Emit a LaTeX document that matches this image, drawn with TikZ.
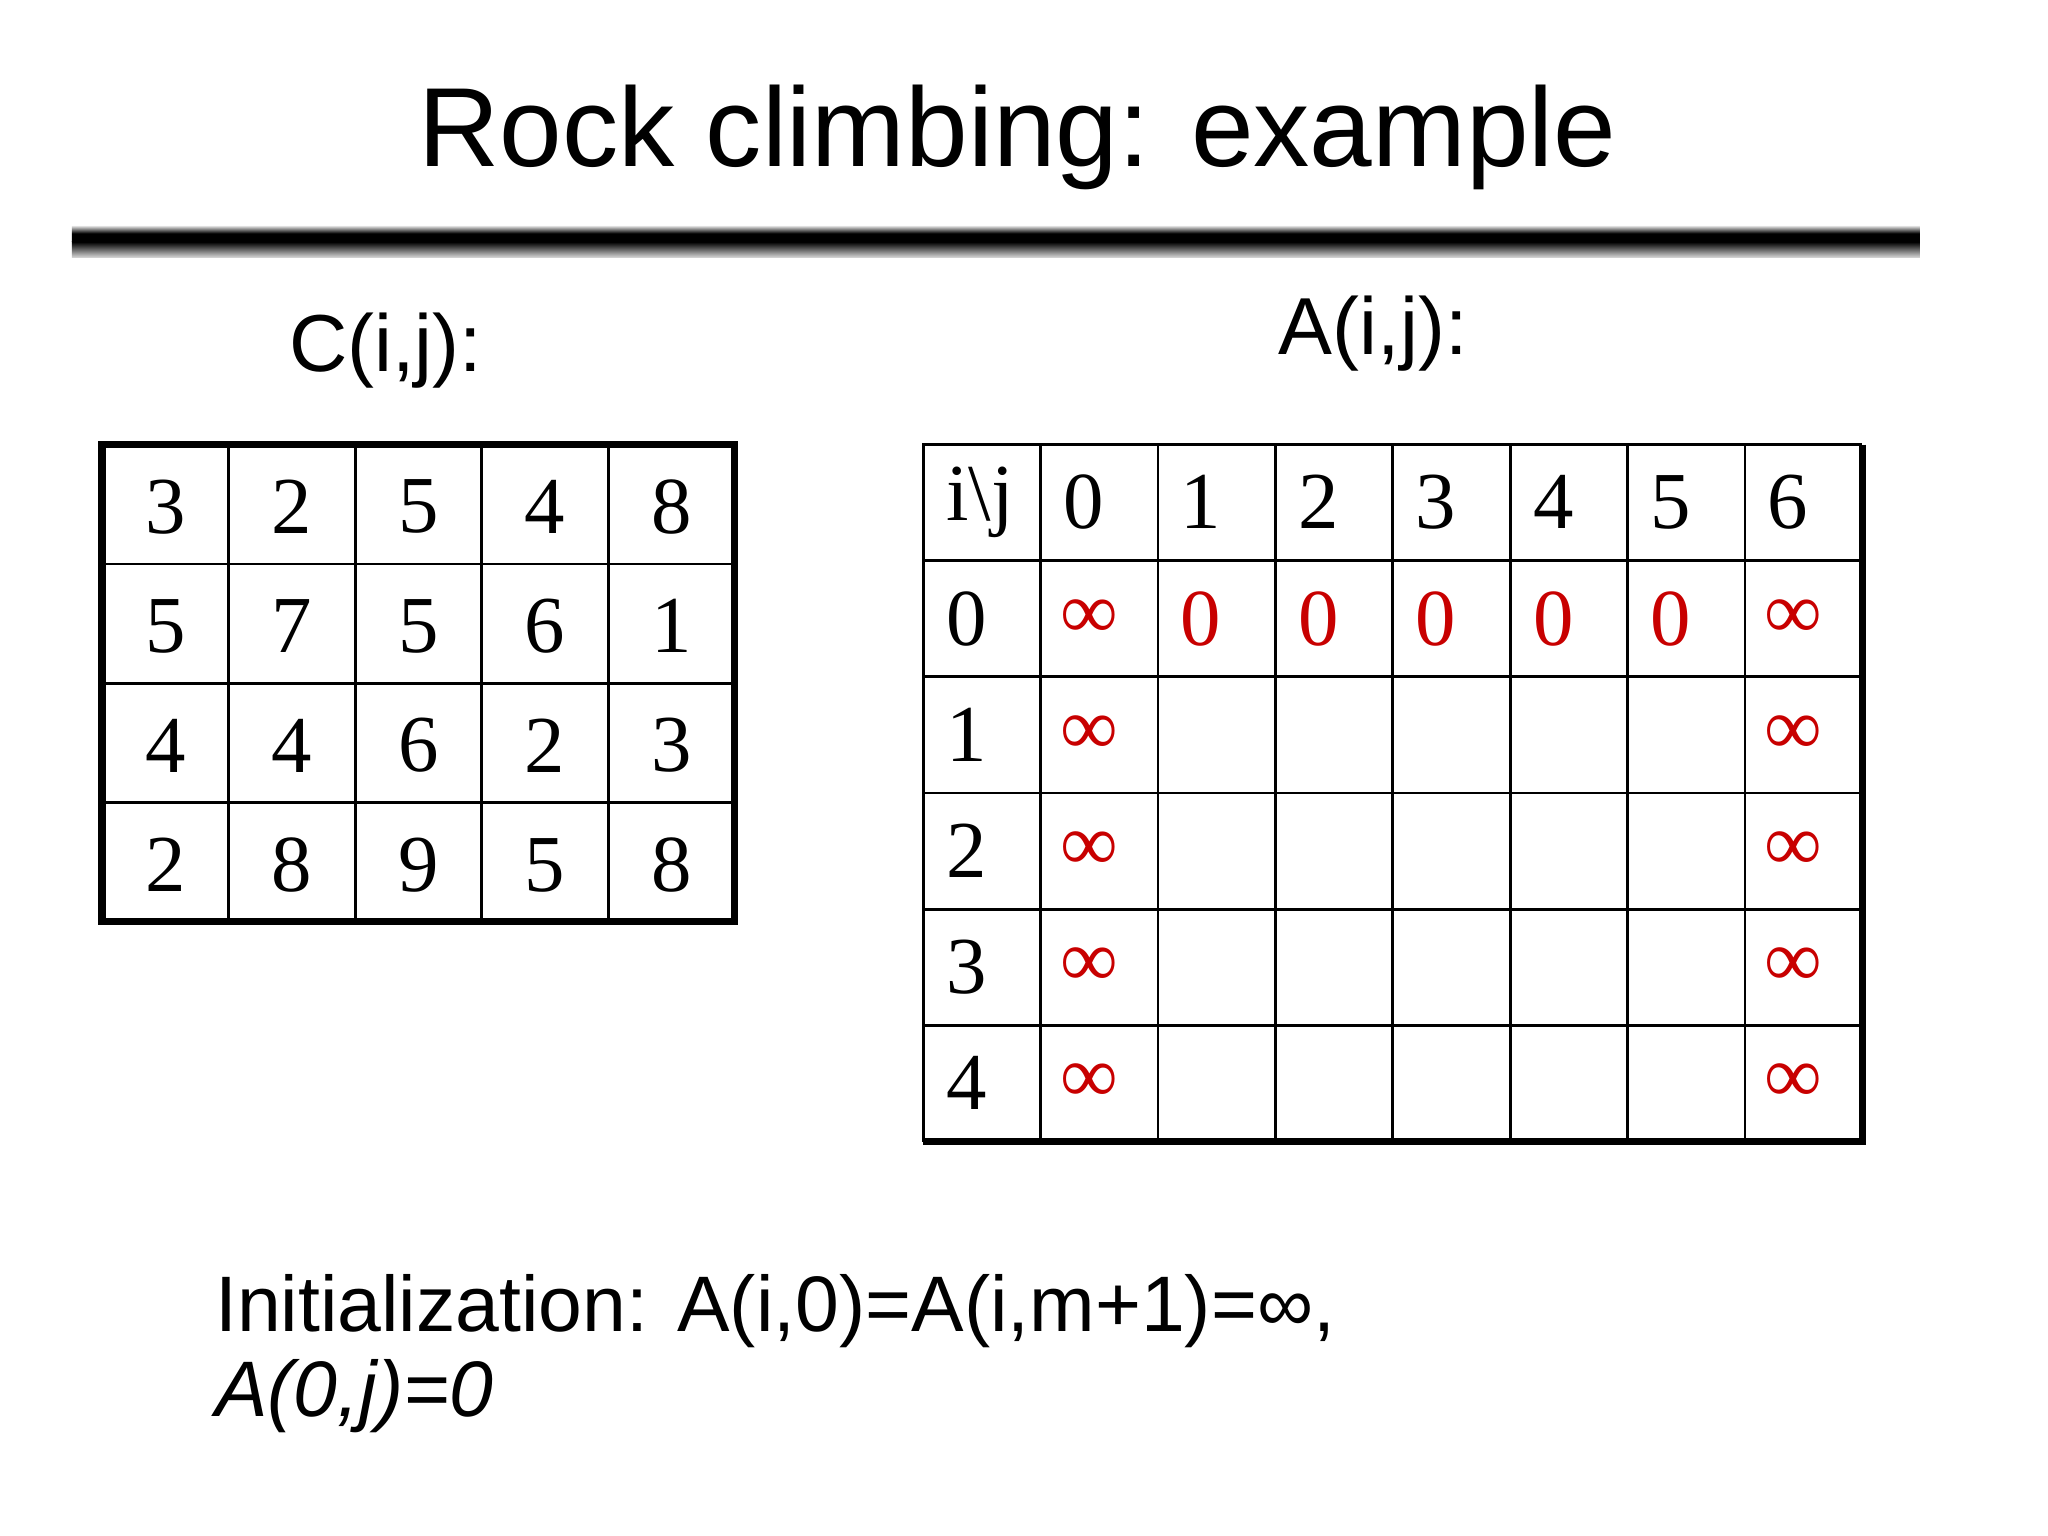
\documentclass[tikz,border=0pt]{standalone}
\usepackage{fontspec}
\setmainfont{Liberation Sans}
\newfontfamily\serifnum{Liberation Serif}
\begin{document}
\begin{tikzpicture}[x=0.013078cm,y=-0.013078cm,
  cnum/.style={font=\serifnum\fontsize{23}{23}\selectfont, anchor=center},
  anum/.style={font=\serifnum\fontsize{23}{23}\selectfont, anchor=west},
  red/.style={text={rgb,255:red,200;green,0;blue,0}},
  inf/.style={font=\serifnum\fontsize{23}{23}\selectfont, anchor=center, text={rgb,255:red,200;green,0;blue,0}}]
\useasboundingbox (0,0) rectangle (1566,1174.5);
\node[font=\fontsize{32}{32}\selectfont] (title) at (778,105) {Rock climbing: example};
\shade[top color=white, bottom color=black, middle color=black] (55,172) rectangle (1468,185);
\shade[top color=black, bottom color=white!85!black] (55,185) rectangle (1468,197);
\node[font=\fontsize{23}{23}\selectfont] (cl) at (295,268) {C(i,j):};
\node[font=\fontsize{23}{23}\selectfont] (al) at (1050,255) {A(i,j):};
% C grid
\foreach \k in {1,...,4} \draw[line width=0.8pt] ({78+\k*96.8},340) -- ({78+\k*96.8},705);
\foreach \k in {1,...,3} \draw[line width=0.8pt] (78,{340+\k*91.25}) -- (562,{340+\k*91.25});
\draw[line width=2pt] (78,340) rectangle (562,705);
\foreach \r/\row in {0/{3,2,5,4,8},1/{5,7,5,6,1},2/{4,4,6,2,3},3/{2,8,9,5,8}}{
  \foreach \v [count=\c from 0] in \row
    \node[cnum] (c\r\c) at ({78+(\c+0.5)*96.8},{340+(\r+0.5)*91.25+2}) {\v};
}
% A grid
\foreach \k in {1,...,7} \draw[line width=0.8pt] ({706+\k*89.75},340) -- ({706+\k*89.75},873);
\foreach \k in {1,...,5} \draw[line width=0.8pt] (706,{340+\k*88.8}) -- (1424,{340+\k*88.8});
\draw[line width=0.8pt] (706,873) -- (706,340) -- (1424,340);
\draw[line width=2pt] (1424,340) -- (1424,873) -- (706,873);
\node[anum] (h) at (714,384) {i\textbackslash j};
\foreach \c in {0,...,6} \node[anum] (hc\c) at ({706+(\c+1)*89.75+8},384) {\c};
\foreach \r in {0,...,4} \node[anum] (hr\r) at (714,{340+(\r+1.5)*88.8}) {\r};
\foreach \c in {1,...,5} \node[anum,red] (z\c) at ({706+(\c+1)*89.75+8},{340+1.5*88.8}) {0};
\foreach \r in {0,...,4}{
  \node[inf] (l\r) at ({706+1.5*89.75-8},{340+(\r+1.5)*88.8}) {∞};
  \node[inf] (r\r) at ({706+7.5*89.75-8},{340+(\r+1.5)*88.8}) {∞};
}
\node[anchor=base west,font=\fontsize{22.4}{22.4}\selectfont] (init) at (155,1018) {Initialization: A(i,0)=A(i,m+1)=∞,};
\node[anchor=base west,font=\itshape\fontsize{22.4}{22.4}\selectfont] (init2) at (155,1083) {A(0,j)=0};
\end{tikzpicture}
\end{document}
